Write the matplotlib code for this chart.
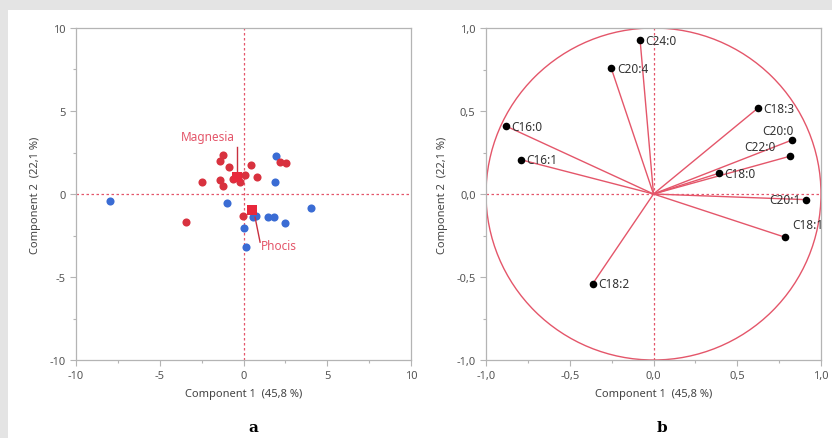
import matplotlib
matplotlib.use('Agg')
import matplotlib.pyplot as plt
import numpy as np
from matplotlib.patches import Circle, Rectangle
from matplotlib.ticker import MultipleLocator, FuncFormatter

plt.rcParams['font.family'] = ['Noto Sans', 'DejaVu Sans']

# --- panel a: PCA scores ---
red_x = [-1.2, -1.4, -0.87, 0.43, -2.46, -1.4, -1.2, -0.45, -0.2, 0.09, 0.82,
         -3.43, -0.05, 2.15, 2.55, -0.6, -0.3]
red_y = [2.35, 2.0, 1.65, 1.77, 0.7, 0.84, 0.5, 1.07, 0.7, 1.15, 1.04,
         -1.7, -1.3, 1.95, 1.85, 0.9, 1.0]
blue_x = [1.95, 1.88, -0.97, 4.03, 0.03, 0.15, 0.58, 0.75, 1.48, 1.82, 2.48, -7.96]
blue_y = [2.3, 0.7, -0.56, -0.84, -2.07, -3.2, -1.37, -1.35, -1.4, -1.37, -1.77, -0.42]
centroid_names = ['Magnesia', 'Phocis']
centroid_x = [-0.37, 0.49]
centroid_y = [1.0, -0.95]
label_x = [-2.1, 2.1]
label_y = [3.45, -3.1]

# --- panel b: loadings ---
fa_names = ['C24:0', 'C20:4', 'C16:0', 'C16:1', 'C18:3', 'C20:0', 'C22:0',
            'C18:0', 'C20:1', 'C18:1', 'C18:2']
load_x = [-0.08, -0.252, -0.88, -0.794, 0.624, 0.824, 0.816, 0.39, 0.91, 0.784, -0.364]
load_y = [0.927, 0.757, 0.409, 0.207, 0.518, 0.324, 0.228, 0.125, -0.034, -0.26, -0.542]

RED = '#d8323f'
BLUE = '#3a6cd4'
PINK = '#e4566a'
SPINE = '#b4b4b4'
TXT = '#555555'

W, H = 832, 439
fig = plt.figure(figsize=(W / 100, H / 100), dpi=100, facecolor='#e4e4e4')
fig.patches.append(Rectangle((8 / W, 0), 1, 1 - 11 / H, transform=fig.transFigure,
                             facecolor='white', edgecolor='none', zorder=-10))


def make_ax(x0, x1, y0, y1):
    ax = fig.add_axes([x0 / W, 1 - y1 / H, (x1 - x0) / W, (y1 - y0) / H])
    for s in ax.spines.values():
        s.set_color(SPINE)
        s.set_linewidth(0.9)
    ax.tick_params(which='both', direction='out', colors=SPINE, labelcolor=TXT,
                   labelsize=8, width=0.8)
    ax.tick_params(which='major', length=4)
    ax.tick_params(which='minor', length=2.5)
    ax.set_xlabel('Component 1  (45,8 %)', fontsize=8, color='#444444', labelpad=5)
    ax.set_ylabel('Component 2  (22,1 %)', fontsize=8, color='#444444', labelpad=6)
    return ax


# panel a
ax1 = make_ax(76, 411, 29, 361)
ax1.set_xlim(-10, 10)
ax1.set_ylim(-10, 10)
ax1.xaxis.set_major_locator(MultipleLocator(5))
ax1.yaxis.set_major_locator(MultipleLocator(5))
ax1.xaxis.set_minor_locator(MultipleLocator(2.5))
ax1.yaxis.set_minor_locator(MultipleLocator(2.5))
ax1.axhline(0, color=PINK, lw=0.9, ls=(0, (2, 2)), zorder=1)
ax1.axvline(0, color=PINK, lw=0.9, ls=(0, (2, 2)), zorder=1)
ax1.scatter(blue_x, blue_y, s=34, color=BLUE, zorder=3, linewidths=0)
ax1.scatter(red_x, red_y, s=34, color=RED, zorder=3, linewidths=0)
ax1.scatter(centroid_x, centroid_y, s=60, marker='s', color='#e8283c', zorder=4, linewidths=0)
for name, cx, cy, lx, ly in zip(centroid_names, centroid_x, centroid_y, label_x, label_y):
    if ly > cy:
        ax1.plot([cx, cx], [cy, ly - 0.6], color='#c83040', lw=1, zorder=3)
    else:
        ax1.plot([cx + 0.2, cx + 0.5], [cy - 0.45, ly + 0.2], color='#c83040', lw=1, zorder=3)
    ax1.text(lx, ly, name, color=PINK, fontsize=8.5, ha='center', va='center', zorder=5)
ax1.xaxis.set_major_formatter(FuncFormatter(lambda v, p: '%d' % v))
ax1.yaxis.set_major_formatter(FuncFormatter(lambda v, p: '%d' % v))

# panel b
ax2 = make_ax(486, 821, 29, 361)
ax2.set_xlim(-1, 1)
ax2.set_ylim(-1, 1)
ax2.xaxis.set_major_locator(MultipleLocator(0.5))
ax2.yaxis.set_major_locator(MultipleLocator(0.5))
ax2.xaxis.set_minor_locator(MultipleLocator(0.25))
ax2.yaxis.set_minor_locator(MultipleLocator(0.25))
comma = FuncFormatter(lambda v, p: ('%.1f' % v).replace('.', ','))
ax2.xaxis.set_major_formatter(comma)
ax2.yaxis.set_major_formatter(comma)
ax2.axhline(0, color=PINK, lw=0.9, ls=(0, (2, 2)), zorder=1)
ax2.axvline(0, color=PINK, lw=0.9, ls=(0, (2, 2)), zorder=1)
ax2.add_patch(Circle((0, 0), 1, fill=False, edgecolor=PINK, lw=1, zorder=2))
for lx_, ly_ in zip(load_x, load_y):
    ax2.plot([0, lx_], [0, ly_], color=PINK, lw=1, zorder=2)
ax2.scatter(load_x, load_y, s=30, color='black', zorder=4, linewidths=0)

# label placement (offsets in points)
offsets = {'C20:0': (-10, 7, 'center'), 'C22:0': (-22, 7, 'center'),
           'C20:1': (-4, 0, 'right'), 'C18:1': (5, 9, 'left')}
for name, lx_, ly_ in zip(fa_names, load_x, load_y):
    dx, dy, ha = offsets.get(name, (4, 0, 'left'))
    ax2.annotate(name, (lx_, ly_), xytext=(dx, dy), textcoords='offset points',
                 ha=ha, va='center', fontsize=8.5, color='#333333', zorder=5)

fig.text(253 / W, 1 - 428 / H, 'a', fontsize=11, fontweight='bold',
         family='DejaVu Serif', ha='center', va='center')
fig.text(662 / W, 1 - 428 / H, 'b', fontsize=11, fontweight='bold',
         family='DejaVu Serif', ha='center', va='center')

fig.savefig('out.png', dpi=100, facecolor=fig.get_facecolor())
